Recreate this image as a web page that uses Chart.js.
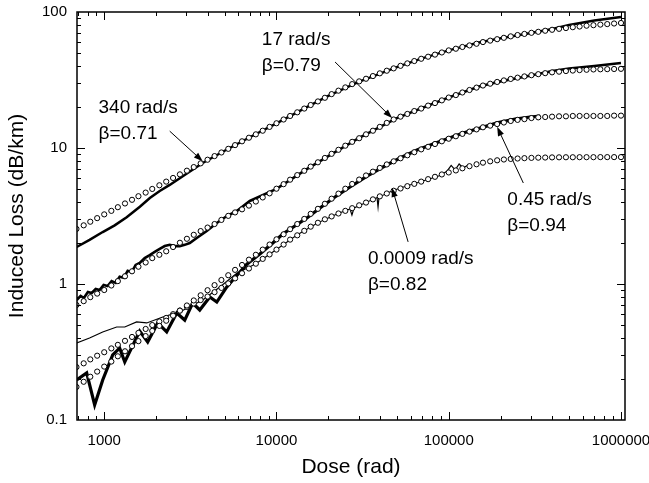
<!DOCTYPE html>
<html>
<head>
<meta charset="utf-8">
<title>Induced Loss vs Dose</title>
<script src="https://cdn.jsdelivr.net/npm/chart.js@4.4.0/dist/chart.umd.min.js"></script>
<style>
  html, body { margin: 0; padding: 0; background: #fff; }
  #wrap { width: 649px; height: 483px; }
</style>
</head>
<body>
<div id="wrap"><canvas id="grafico" width="649" height="483"></canvas></div>
<script>
/* Induced loss (dB/km) vs dose (rad): measured curves + stretched fits (circles) */

// --- fit grid (dose, rad) shared by the four fitted curves ---
const fitDose = [690, 760, 830, 910, 1000, 1100, 1200, 1320, 1450, 1580,
  1740, 1900, 2090, 2290, 2510, 2750, 3020, 3310, 3630, 3980,
  4370, 4790, 5250, 5750, 6310, 6920, 7590, 8320, 9120, 10000,
  11000, 12000, 13200, 14500, 15800, 17400, 19100, 20900, 22900, 25100,
  27500, 30200, 33100, 36300, 39800, 43700, 47900, 52500, 57500, 63100,
  69200, 75900, 83200, 91200, 100000, 110000, 120000, 132000, 145000, 158000,
  174000, 191000, 209000, 229000, 251000, 275000, 302000, 331000, 363000, 398000,
  437000, 479000, 525000, 575000, 631000, 692000, 759000, 832000, 912000, 1000000];

const fit340 = [2.54, 2.70, 2.87, 3.05, 3.25, 3.45, 3.67, 3.91, 4.16, 4.42,
  4.70, 5.00, 5.32, 5.66, 6.02, 6.40, 6.81, 7.24, 7.71, 8.20,
  8.72, 9.27, 9.86, 10.5, 11.2, 11.9, 12.6, 13.4, 14.3, 15.2,
  16.2, 17.2, 18.3, 19.5, 20.7, 22.0, 23.4, 24.9, 26.4, 27.9,
  29.5, 30.9, 32.3, 33.8, 35.4, 37.0, 38.5, 40.2, 41.9, 43.6,
  45.3, 46.9, 48.6, 50.4, 52.2, 53.7, 55.3, 56.8, 58.4, 60.1,
  61.6, 63.1, 64.6, 66.2, 67.7, 69.0, 70.3, 71.5, 72.8, 74.0,
  75.2, 76.2, 77.3, 78.2, 79.3, 80.0, 80.8, 81.5, 82.3, 83.0];

const fit17 = [0.701, 0.748, 0.800, 0.850, 0.903, 0.975, 1.05, 1.14, 1.24, 1.34,
  1.44, 1.55, 1.64, 1.74, 1.87, 2.01, 2.15, 2.30, 2.45, 2.60,
  2.76, 2.96, 3.17, 3.36, 3.54, 3.77, 4.04, 4.33, 4.64, 5.02,
  5.42, 5.85, 6.32, 6.80, 7.30, 7.85, 8.45, 9.06, 9.70, 10.4,
  11.1, 11.8, 12.6, 13.4, 14.3, 15.3, 16.2, 17.0, 17.8, 18.7,
  19.5, 20.5, 21.4, 22.4, 23.5, 24.5, 25.6, 26.7, 27.8, 28.8,
  29.7, 30.6, 31.4, 32.2, 32.9, 33.6, 34.3, 34.9, 35.5, 36.0,
  36.4, 36.8, 37.1, 37.4, 37.6, 37.8, 37.9, 38.0, 38.1, 38.2];

const fit045 = [0.175, 0.191, 0.208, 0.227, 0.247, 0.269, 0.294, 0.320, 0.349, 0.380,
  0.414, 0.452, 0.492, 0.537, 0.585, 0.637, 0.695, 0.757, 0.826, 0.900,
  0.981, 1.07, 1.16, 1.27, 1.38, 1.51, 1.64, 1.79, 1.95, 2.13,
  2.32, 2.53, 2.76, 3.01, 3.28, 3.57, 3.89, 4.24, 4.62, 5.02,
  5.44, 5.86, 6.28, 6.70, 7.14, 7.57, 7.98, 8.40, 8.84, 9.31,
  9.77, 10.2, 10.7, 11.2, 11.7, 12.2, 12.7, 13.2, 13.7, 14.2,
  14.6, 15.0, 15.4, 15.8, 16.1, 16.3, 16.6, 16.8, 16.9, 17.0,
  17.1, 17.1, 17.2, 17.2, 17.2, 17.2, 17.2, 17.2, 17.3, 17.3];

const fit00009 = [0.245, 0.261, 0.279, 0.297, 0.315, 0.336, 0.357, 0.382, 0.408, 0.437,
  0.467, 0.499, 0.530, 0.563, 0.600, 0.638, 0.679, 0.719, 0.762, 0.809,
  0.871, 0.936, 1.01, 1.10, 1.20, 1.30, 1.41, 1.53, 1.65, 1.79,
  1.95, 2.12, 2.28, 2.46, 2.64, 2.82, 2.99, 3.14, 3.30, 3.45,
  3.61, 3.79, 3.97, 4.19, 4.41, 4.63, 4.85, 5.04, 5.24, 5.45,
  5.66, 5.90, 6.14, 6.39, 6.61, 6.84, 7.09, 7.35, 7.59, 7.80,
  7.98, 8.12, 8.23, 8.31, 8.37, 8.42, 8.46, 8.49, 8.51, 8.53,
  8.54, 8.55, 8.55, 8.56, 8.56, 8.56, 8.57, 8.57, 8.57, 8.57];

// --- measured curves ---
const dose340 = [692, 822, 980, 1150, 1350, 1610, 1840, 2100, 2400, 2930, 3730, 5000, 7000,
  10000, 15000, 20000, 30000, 50000, 70000, 100000, 150000, 200000, 300000, 400000, 500000, 700000, 1000000];
const loss340 = [1.87, 2.11, 2.41, 2.70, 3.10, 3.70, 4.29, 4.83, 5.35, 6.33, 7.76, 9.55, 12.0,
  15.2, 20.0, 24.2, 30.6, 39.3, 45.6, 52.2, 59.6, 64.2, 70.2, 75.0, 80.2, 86.6, 91.8];

const dose17 = [692, 730, 762, 804, 846, 892, 940, 992, 1046, 1104, 1165, 1229, 1297, 1368, 1443,
  1523, 1607, 1718, 1837, 1964, 2100, 2245, 2400, 2566, 2744, 2933, 3136, 3445, 3939, 4503,
  5148, 5886, 7002, 10000, 15000, 20000, 30000, 50000, 70000, 100000, 150000, 200000,
  300000, 400000, 500000, 700000, 1000000];
const loss17 = [0.762, 0.817, 0.789, 0.873, 0.859, 0.919, 0.903, 0.983, 0.967, 1.05, 1.02, 1.13, 1.11, 1.25, 1.22,
  1.38, 1.43, 1.55, 1.63, 1.72, 1.81, 1.90, 1.94, 1.90, 1.90, 1.94, 2.00, 2.18, 2.45, 2.81,
  3.16, 3.44, 4.08, 5.0, 7.0, 8.7, 11.8, 16.6, 19.7, 23.5, 28.3, 30.9,
  34.1, 36.8, 38.4, 40.1, 42.2];

const dose045 = [692, 791, 880, 980, 1120, 1229, 1316, 1607, 1788, 2043, 2305, 2636, 2933, 3263,
  3586, 4101, 4503, 5148, 5580, 6730, 8005, 9520, 10880, 12790, 15020, 17880, 21860, 26720,
  33550, 41560, 52170, 65460, 81110, 101800, 121300, 152100, 190900, 243100, 297200, 339700];
const loss045 = [0.197, 0.222, 0.129, 0.197, 0.301, 0.338, 0.267, 0.451, 0.375, 0.517, 0.444, 0.612, 0.543, 0.725,
  0.644, 0.802, 0.737, 0.951, 1.07, 1.40, 1.66, 2.00, 2.33, 2.67, 3.06, 3.62, 4.36, 5.17,
  6.22, 7.25, 8.44, 9.67, 10.7, 11.9, 12.9, 14.0, 15.3, 16.3, 16.9, 17.2];

const dose00009 = [692, 822, 980, 1181, 1316, 1542, 1765, 2188, 2744, 3733, 4689, 5886, 7590, 10000,
  13150, 17420, 22760, 26720, 27420, 28200, 32640, 38350, 38870, 39400, 47510, 58080, 71010,
  89130, 97950, 103300, 108900, 114900, 121300, 129600];
const loss00009 = [0.368, 0.401, 0.444, 0.483, 0.483, 0.526, 0.517, 0.572, 0.623, 0.762, 0.951, 1.20, 1.41, 1.79,
  2.29, 2.82, 3.30, 3.56, 3.22, 3.62, 3.94, 4.32, 3.68, 4.36, 4.87, 5.30, 5.72,
  6.28, 6.78, 7.44, 6.89, 7.63, 7.13, 7.50];

// --- curve labels: [text line 1, line 2, label dose, label loss, arrow from (dose, loss), arrow to (dose, loss)] ---
const rotulos = [
  ['340 rad/s', 'β=0.71', 927, 18.1, 2400, 13.3, 3730, 8.0],
  ['17 rad/s', 'β=0.79', 8220, 57.2, 21880, 42.9, 46900, 16.6],
  ['0.45 rad/s', 'β=0.94', 218800, 3.81, 271000, 5.53, 191000, 14.3],
  ['0.0009 rad/s', 'β=0.82', 33960, 1.40, 58100, 2.04, 46900, 5.08]
];

const FONTE = "'Liberation Sans', Arial, Helvetica, sans-serif";

function pares(xs, ys) {
  return xs.map((x, i) => ({ x, y: ys[i] }));
}

function ehDecada(v) {
  const l = Math.log10(v);
  return Math.abs(l - Math.round(l)) < 1e-6;
}

function textoDecada(v) {
  const e = Math.round(Math.log10(v));
  return e >= 0 ? String(Math.pow(10, e)) : Math.pow(10, e).toFixed(-e);
}

function serieAjuste(ys) {
  return {
    data: pares(fitDose, ys),
    showLine: false,
    pointStyle: 'circle',
    pointRadius: 2.6,
    pointBorderWidth: 1,
    pointBorderColor: '#000',
    pointBackgroundColor: '#fff',
    order: 0
  };
}

function serieMedida(xs, ys, largura) {
  return {
    data: pares(xs, ys),
    showLine: true,
    borderColor: '#000',
    borderWidth: largura,
    pointRadius: 0,
    tension: 0,
    order: 1
  };
}

/* moldura com marcas de escala para dentro nos quatro lados */
const molduraPlugin = {
  id: 'moldura',
  afterDatasetsDraw(chart) {
    const { ctx, chartArea: a, scales: { x, y } } = chart;
    ctx.save();
    ctx.strokeStyle = '#000';
    ctx.lineWidth = 1;
    ctx.beginPath();
    for (let e = 2; e <= 6; e++) {
      for (let m = 1; m <= 9; m++) {
        const v = m * Math.pow(10, e);
        if (v <= x.min || v >= x.max) continue;
        const px = Math.round(x.getPixelForValue(v)) + 0.5;
        const len = m === 1 ? 8 : 4;
        ctx.moveTo(px, a.bottom); ctx.lineTo(px, a.bottom - len);
        ctx.moveTo(px, a.top); ctx.lineTo(px, a.top + len);
      }
    }
    for (let e = -1; e <= 1; e++) {
      for (let m = 1; m <= 9; m++) {
        const v = m * Math.pow(10, e);
        if (v <= y.min || v >= y.max) continue;
        const py = Math.round(y.getPixelForValue(v)) + 0.5;
        const len = m === 1 ? 8 : 4;
        ctx.moveTo(a.left, py); ctx.lineTo(a.left + len, py);
        ctx.moveTo(a.right, py); ctx.lineTo(a.right - len, py);
      }
    }
    ctx.stroke();
    ctx.lineWidth = 1.5;
    ctx.strokeRect(a.left, a.top, a.right - a.left, a.bottom - a.top);
    ctx.restore();
  }
};

/* rótulos das taxas de dose com setas */
const rotulosPlugin = {
  id: 'rotulos',
  afterDraw(chart) {
    const { ctx, scales: { x, y } } = chart;
    ctx.save();
    ctx.fillStyle = '#000';
    ctx.strokeStyle = '#000';
    ctx.font = '19px ' + FONTE;
    ctx.textAlign = 'left';
    ctx.textBaseline = 'alphabetic';
    rotulos.forEach(([l1, l2, dx, dy, ax, ay, bx, by]) => {
      const tx = x.getPixelForValue(dx);
      const ty = y.getPixelForValue(dy);
      ctx.fillText(l1, tx, ty);
      ctx.fillText(l2, tx, ty + 26);

      const x0 = x.getPixelForValue(ax), y0 = y.getPixelForValue(ay);
      const x1 = x.getPixelForValue(bx), y1 = y.getPixelForValue(by);
      const ang = Math.atan2(y1 - y0, x1 - x0);
      const cab = 9, meia = 3.2;
      ctx.lineWidth = 1;
      ctx.beginPath();
      ctx.moveTo(x0, y0);
      ctx.lineTo(x1 - cab * 0.8 * Math.cos(ang), y1 - cab * 0.8 * Math.sin(ang));
      ctx.stroke();
      ctx.beginPath();
      ctx.moveTo(x1, y1);
      ctx.lineTo(x1 - cab * Math.cos(ang) + meia * Math.sin(ang), y1 - cab * Math.sin(ang) - meia * Math.cos(ang));
      ctx.lineTo(x1 - cab * Math.cos(ang) - meia * Math.sin(ang), y1 - cab * Math.sin(ang) + meia * Math.cos(ang));
      ctx.closePath();
      ctx.fill();
    });
    ctx.restore();
  }
};

new Chart(document.getElementById('grafico'), {
  type: 'scatter',
  data: {
    datasets: [
      serieAjuste(fit340),
      serieAjuste(fit17),
      serieAjuste(fit045),
      serieAjuste(fit00009),
      serieMedida(dose340, loss340, 2.5),
      serieMedida(dose17, loss17, 2.6),
      serieMedida(dose045, loss045, 3.2),
      serieMedida(dose00009, loss00009, 1.2)
    ]
  },
  options: {
    responsive: false,
    animation: false,
    devicePixelRatio: 1,
    layout: { padding: { top: 12, right: 24, left: 0, bottom: 0 } },
    plugins: {
      legend: { display: false },
      tooltip: { enabled: false }
    },
    scales: {
      x: {
        type: 'logarithmic',
        min: 695,
        max: 1055000,
        grid: { display: false, drawTicks: false },
        border: { display: false },
        ticks: {
          autoSkip: false,
          maxRotation: 0,
          padding: 12,
          color: '#000',
          font: { family: FONTE, size: 15 },
          callback: (v) => (ehDecada(v) ? textoDecada(v) : '')
        },
        title: {
          display: true,
          text: 'Dose (rad)',
          color: '#000',
          font: { family: FONTE, size: 21 },
          padding: { top: 0, bottom: 3 }
        },
        afterFit(s) { s.height = 63; s.paddingLeft = 0; s.paddingRight = 0; }
      },
      y: {
        type: 'logarithmic',
        min: 0.1,
        max: 100,
        grid: { display: false, drawTicks: false },
        border: { display: false },
        ticks: {
          autoSkip: false,
          padding: 10,
          color: '#000',
          font: { family: FONTE, size: 15 },
          callback: (v) => (ehDecada(v) ? textoDecada(v) : '')
        },
        title: {
          display: true,
          text: 'Induced Loss (dB/km)',
          color: '#000',
          font: { family: FONTE, size: 21 },
          padding: { top: 5, bottom: 0 }
        },
        afterFit(s) { s.width = 77; s.paddingTop = 0; s.paddingBottom = 0; }
      }
    }
  },
  plugins: [molduraPlugin, rotulosPlugin]
});
</script>
</body>
</html>
